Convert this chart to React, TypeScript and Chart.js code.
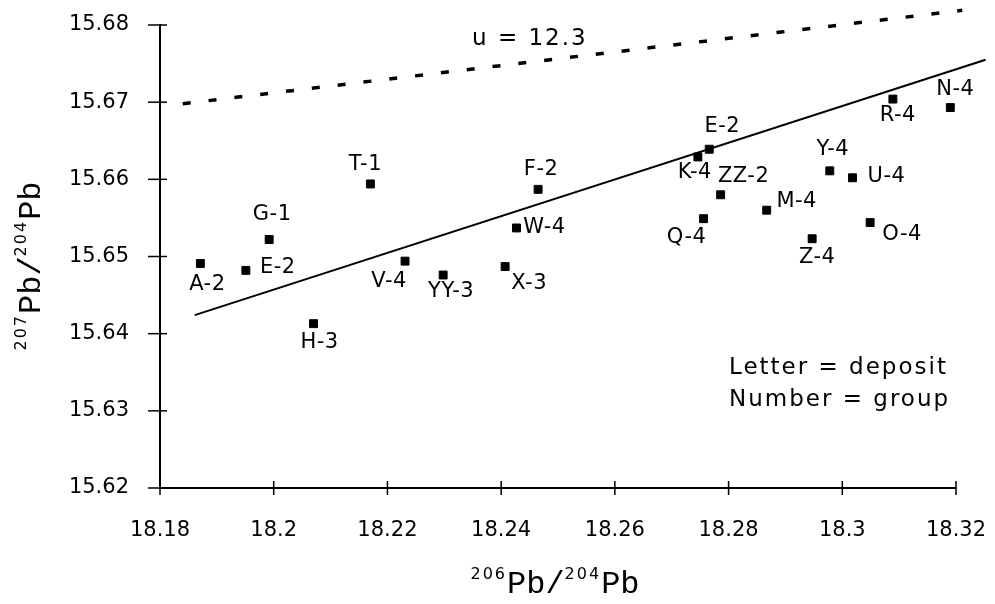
import React, { useEffect, useRef } from 'react';
import { Chart, registerables } from 'chart.js';

Chart.register(...registerables);

// ---- data ----
const sampleLabels = ['A-2', 'E-2', 'G-1', 'H-3', 'T-1', 'V-4', 'YY-3', 'X-3', 'W-4', 'F-2', 'K-4', 'E-2', 'Q-4', 'ZZ-2', 'M-4', 'Z-4', 'Y-4', 'U-4', 'O-4', 'R-4', 'N-4'];
const pb206 = [18.1871, 18.1951, 18.1992, 18.2070, 18.2170, 18.2231, 18.2298, 18.2407, 18.2427, 18.2465, 18.2746, 18.2766, 18.2756, 18.2786, 18.2867, 18.2947, 18.2978, 18.3018, 18.3049, 18.3089, 18.3190];
const pb207 = [15.6491, 15.6482, 15.6522, 15.6413, 15.6594, 15.6494, 15.6476, 15.6487, 15.6537, 15.6587, 15.6629, 15.6639, 15.6549, 15.6580, 15.6560, 15.6523, 15.6611, 15.6602, 15.6544, 15.6704, 15.6693];

const fitLineX = [18.1861, 18.3252];
const fitLineY = [15.6424, 15.6755];
const growthX = [18.1840, 18.3211];
const growthY = [15.6698, 15.6819];

const xTickLabels = ['18.18', '18.2', '18.22', '18.24', '18.26', '18.28', '18.3', '18.32'];
const yTickLabels = ['15.62', '15.63', '15.64', '15.65', '15.66', '15.67', '15.68'];

// label placement (pixel offsets of label centre from its point)
const labelOffsets: [number, number][] = [
  [7, 21], [32, -3], [3, -25], [6, 19], [-5, -19], [-16, 20], [8, 17], [24, 17], [28, 0], [3, -20],
  [-3, 16], [13, -23], [-17, 19], [23, -18], [30, -9], [5, 19], [3, -21], [34, -1], [32, 12], [5, 16], [5, -18],
];

const FONT = '"DejaVu Sans", sans-serif';
const MONO = '"Liberation Mono", "Courier New", monospace';

function drawIsotopeTitle(ctx: CanvasRenderingContext2D, sup1: string, sup2: string, cx: number, baseline: number) {
  const mainFont = `32px ${MONO}`;
  const supFont = `16px ${FONT}`;
  const c: any = ctx;
  ctx.textAlign = 'left';
  ctx.textBaseline = 'alphabetic';
  ctx.font = supFont;
  c.letterSpacing = '2px';
  const w1 = ctx.measureText(sup1).width;
  const w3 = ctx.measureText(sup2).width;
  ctx.font = mainFont;
  c.letterSpacing = '0px';
  const w2 = ctx.measureText('Pb/').width;
  const w4 = ctx.measureText('Pb').width;
  let x = cx - (w1 + w2 + w3 + w4) / 2;
  ctx.font = supFont;
  c.letterSpacing = '2px';
  ctx.fillText(sup1, x, baseline - 14);
  x += w1;
  ctx.font = mainFont;
  c.letterSpacing = '0px';
  ctx.fillText('Pb/', x, baseline);
  x += w2;
  ctx.font = supFont;
  c.letterSpacing = '2px';
  ctx.fillText(sup2, x, baseline - 14);
  x += w3;
  ctx.font = mainFont;
  c.letterSpacing = '0px';
  ctx.fillText('Pb', x, baseline);
}

const annotatePlugin = {
  id: 'annotate',
  afterDraw(chart: any) {
    const ctx: CanvasRenderingContext2D = chart.ctx;
    const c: any = ctx;
    const xs = chart.scales.x;
    const ys = chart.scales.y;
    ctx.save();
    ctx.fillStyle = '#000';
    ctx.strokeStyle = '#000';

    // tick marks crossing the axes
    ctx.lineWidth = 1.5;
    const axisY = ys.bottom;
    const axisX = xs.left;
    xs.ticks.forEach((t: any) => {
      const px = xs.getPixelForValue(t.value);
      ctx.beginPath();
      ctx.moveTo(px, axisY - 7);
      ctx.lineTo(px, axisY + 7);
      ctx.stroke();
    });
    ys.ticks.forEach((t: any) => {
      const py = ys.getPixelForValue(t.value);
      ctx.beginPath();
      ctx.moveTo(axisX - 12, py);
      ctx.lineTo(axisX + 7, py);
      ctx.stroke();
    });

    // point labels
    ctx.font = `21px ${FONT}`;
    ctx.textAlign = 'center';
    ctx.textBaseline = 'middle';
    c.letterSpacing = '0.5px';
    sampleLabels.forEach((lab, i) => {
      const px = xs.getPixelForValue(pb206[i]);
      const py = ys.getPixelForValue(pb207[i]);
      const [dx, dy] = labelOffsets[i];
      ctx.fillText(lab, px + dx, py + dy);
    });

    // curve label and legend note
    ctx.font = `23px ${FONT}`;
    ctx.textAlign = 'left';
    c.letterSpacing = '2px';
    ctx.fillText('u = 12.3', 472, 39);
    ctx.fillText('Letter = deposit', 729, 368);
    ctx.fillText('Number = group', 729, 400);
    c.letterSpacing = '0px';

    // axis titles
    drawIsotopeTitle(ctx, '206', '204', 555, 593);
    ctx.save();
    ctx.translate(40, 266);
    ctx.rotate(-Math.PI / 2);
    drawIsotopeTitle(ctx, '207', '204', 0, 0);
    ctx.restore();

    ctx.restore();
  },
};

export default function App() {
  const canvasRef = useRef<HTMLCanvasElement | null>(null);

  useEffect(() => {
    if (!canvasRef.current) return;
    const points = pb206.map((x, i) => ({ x, y: pb207[i] }));
    const fit = fitLineX.map((x, i) => ({ x, y: fitLineY[i] }));
    const growth = growthX.map((x, i) => ({ x, y: growthY[i] }));

    const chart = new Chart(canvasRef.current, {
      type: 'scatter',
      data: {
        datasets: [
          {
            label: 'samples',
            data: points,
            pointStyle: 'rect',
            pointRadius: 5.6,
            backgroundColor: '#000',
            borderColor: '#000',
            borderWidth: 1,
          },
          {
            label: 'fit',
            data: fit,
            showLine: true,
            pointRadius: 0,
            borderColor: '#000',
            borderWidth: 2,
            clip: false as any,
          } as any,
          {
            label: 'growth',
            data: growth,
            showLine: true,
            pointRadius: 0,
            borderColor: '#000',
            borderWidth: 3.5,
            borderDash: [8, 18],
            clip: false as any,
          } as any,
        ],
      },
      options: {
        animation: false,
        responsive: false,
        devicePixelRatio: 1,
        layout: { autoPadding: false, padding: { top: 25, right: 39, left: 0, bottom: 0 } },
        plugins: { legend: { display: false }, tooltip: { enabled: false }, title: { display: false } },
        scales: {
          x: {
            type: 'linear',
            min: 18.18,
            max: 18.32,
            grid: { display: false },
            border: { display: true, color: '#000', width: 2 },
            afterFit: (s: any) => { s.height = 116; s.paddingLeft = 0; s.paddingRight = 0; },
            ticks: {
              stepSize: 0.02,
              color: '#000',
              padding: 22,
              maxRotation: 0,
              autoSkip: false,
              font: { family: FONT, size: 21 },
              callback: (v: any, i: number) => xTickLabels[i] ?? String(v),
            },
          },
          y: {
            type: 'linear',
            min: 15.62,
            max: 15.68,
            grid: { display: false },
            border: { display: true, color: '#000', width: 2 },
            afterFit: (s: any) => { s.width = 160; s.paddingTop = 0; s.paddingBottom = 0; },
            ticks: {
              stepSize: 0.01,
              color: '#000',
              padding: 23,
              autoSkip: false,
              font: { family: FONT, size: 21 },
              callback: (v: any, i: number) => yTickLabels[i] ?? String(v),
            },
          },
        },
      },
      plugins: [annotatePlugin],
    });
    return () => chart.destroy();
  }, []);

  return (
    <div style={{ position: 'absolute', left: 0, top: 0, width: 995, height: 604, background: '#fff' }}>
      <canvas ref={canvasRef} width={995} height={604} style={{ display: 'block', width: 995, height: 604 }} />
    </div>
  );
}
